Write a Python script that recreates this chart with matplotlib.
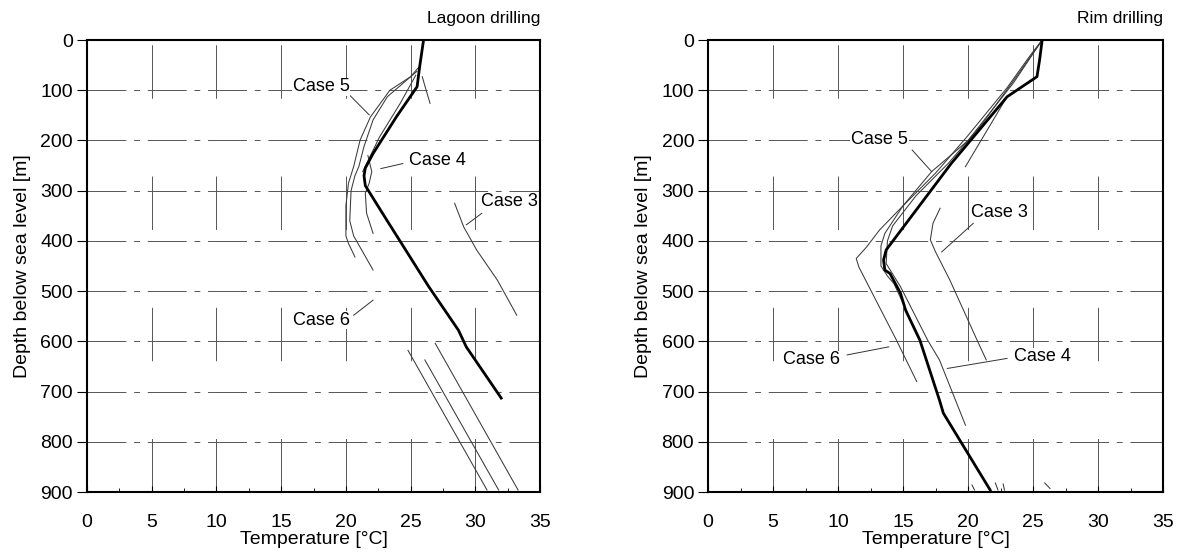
import matplotlib.pyplot as plt
from matplotlib.ticker import MultipleLocator

plt.rcParams['font.family'] = ['Liberation Sans', 'DejaVu Sans']

# ---- Lagoon drilling (left panel): temperature [degC] vs depth [m] ----
lag_meas_t = [26.0, 25.7, 25.5, 23.9, 22.1, 21.5, 21.4, 21.5, 23.0, 26.4, 28.7, 29.3, 32.0]
lag_meas_d = [0, 53, 93, 153, 226, 255, 270, 290, 352, 491, 578, 611, 713]

lag_case5_t = [25.6, 25.0, 23.4, 21.9, 21.1, 20.6, 20.2, 20.0, 20.0, 20.2, 20.7]
lag_case5_d = [55, 73, 100, 153, 199, 252, 285, 330, 390, 405, 432]

lag_case6_t = [25.5, 23.2, 22.1, 21.4, 21.0, 20.7, 20.4, 20.3, 20.6, 22.1]
lag_case6_d = [62, 113, 159, 212, 252, 270, 300, 360, 390, 458]

lag_inner_t = [25.4, 24.2, 22.6, 21.6, 21.3]
lag_inner_d = [70, 126, 193, 246, 262]

lag_case4_t = [21.7, 22.0, 21.8, 21.5, 21.6, 22.1]
lag_case4_d = [230, 262, 285, 305, 345, 385]

lag_case3a_t = [25.9, 26.2, 26.5]
lag_case3a_d = [73, 100, 126]
lag_case3b_t = [28.4, 29.1, 30.1, 31.7, 33.2]
lag_case3b_d = [325, 372, 418, 478, 548]

lag_low_a_t = [24.8, 30.9]
lag_low_a_d = [618, 896]
lag_low_b_t = [26.1, 31.8]
lag_low_b_d = [637, 896]
lag_low_c_t = [26.9, 33.3]
lag_low_c_d = [604, 896]

# ---- Rim drilling (right panel) ----
rim_meas_t = [25.7, 25.5, 25.3, 23.0, 18.7, 13.7, 13.5, 13.6, 14.0, 14.8, 15.2, 16.3, 17.8, 18.1, 18.9, 21.7]
rim_meas_d = [0, 40, 73, 113, 246, 418, 438, 458, 465, 504, 538, 598, 717, 743, 777, 896]

rim_case6_t = [25.7, 24.8, 23.0, 20.0, 17.5, 15.0, 13.2, 12.2, 11.4, 11.6, 14.5, 16.05]
rim_case6_d = [0, 30, 95, 190, 265, 330, 378, 412, 435, 452, 598, 680]

rim_case5_t = [25.7, 23.5, 20.0, 17.2, 15.0, 13.6, 13.3, 13.3, 13.8, 14.3, 15.3]
rim_case5_d = [0, 85, 200, 262, 330, 385, 410, 450, 470, 485, 541]

rim_case4_t = [25.7, 23.8, 21.0, 18.5, 16.0, 14.2, 13.8, 13.7, 14.8, 16.9, 17.8, 19.8]
rim_case4_d = [0, 70, 170, 245, 310, 370, 400, 445, 491, 598, 637, 767]

rim_case3a_t = [23.0, 19.8]
rim_case3a_d = [113, 252]
rim_case3b_t = [17.85, 17.3, 17.1, 17.5, 18.6, 20.7, 21.4]
rim_case3b_d = [335, 365, 398, 422, 478, 598, 637]

rim_tails_t = [[20.3, 20.5], [22.1, 22.3], [22.7, 22.8], [25.9, 26.3]]
rim_tails_d = [[886, 896], [882, 896], [884, 896], [882, 893]]

# labels: (text, text T, text D, leader from T, D, leader to T, D)
lag_labels = [("Case 5", 15.9, 93, 20.3, 110, 21.8, 149),
              ("Case 4", 24.9, 240, 24.4, 246, 22.7, 256),
              ("Case 3", 30.4, 322, 30.5, 345, 29.3, 368),
              ("Case 6", 15.9, 558, 20.6, 548, 22.1, 518)]
rim_labels = [("Case 5", 11.0, 199, 15.7, 219, 17.2, 262),
              ("Case 3", 20.2, 344, 20.4, 365, 17.97, 422),
              ("Case 6", 5.8, 637, 10.7, 627, 13.9, 611),
              ("Case 4", 23.5, 631, 23.0, 634, 18.4, 654)]

fig = plt.figure(figsize=(11.82, 5.56), dpi=100)
ax1 = fig.add_axes([0.0736, 0.1151, 0.3833, 0.8129])
ax2 = fig.add_axes([0.599, 0.1151, 0.3850, 0.8129])

thin = dict(color='#3a3a3a', lw=0.75)
thick = dict(color='black', lw=2.0)


def setup(ax, title):
    ax.set_xlim(0, 35)
    ax.set_ylim(900, 0)
    ax.xaxis.set_major_locator(MultipleLocator(5))
    ax.xaxis.set_minor_locator(MultipleLocator(2.5))
    ax.yaxis.set_major_locator(MultipleLocator(100))
    ax.tick_params(axis='x', direction='in', length=4, labelsize=14, pad=16)
    ax.tick_params(axis='x', which='minor', direction='in', length=3)
    ax.tick_params(axis='y', direction='out', length=7, labelsize=14, pad=3)
    ax.grid(True, axis='y', color='#555555', lw=0.7, linestyle=(0, (40, 8, 6, 8)))
    ax.grid(True, axis='x', color='#555555', lw=0.7, linestyle=(0, (55, 80)))
    ax.set_axisbelow(True)
    for s in ax.spines.values():
        s.set_linewidth(1.5)
    ax.set_xlabel("Temperature [°C]", fontsize=14, labelpad=0)
    ax.set_ylabel("Depth below sea level [m]", fontsize=14)
    ax.yaxis.set_label_coords(-0.124, 0.5)
    ax.text(1.0, 1.03, title, transform=ax.transAxes, ha='right', va='bottom', fontsize=12.5)


setup(ax1, "Lagoon drilling")
setup(ax2, "Rim drilling")

# left panel
ax1.plot(lag_case5_t, lag_case5_d, **thin)
ax1.plot(lag_case6_t, lag_case6_d, **thin)
ax1.plot(lag_inner_t, lag_inner_d, **thin)
ax1.plot(lag_case4_t, lag_case4_d, **thin)
ax1.plot(lag_case3a_t, lag_case3a_d, **thin)
ax1.plot(lag_case3b_t, lag_case3b_d, **thin)
ax1.plot(lag_low_a_t, lag_low_a_d, **thin)
ax1.plot(lag_low_b_t, lag_low_b_d, **thin)
ax1.plot(lag_low_c_t, lag_low_c_d, **thin)
ax1.plot(lag_meas_t, lag_meas_d, **thick)

# right panel
ax2.plot(rim_case6_t, rim_case6_d, **thin)
ax2.plot(rim_case5_t, rim_case5_d, **thin)
ax2.plot(rim_case4_t, rim_case4_d, **thin)
ax2.plot(rim_case3a_t, rim_case3a_d, **thin)
ax2.plot(rim_case3b_t, rim_case3b_d, **thin)
for tt, dd in zip(rim_tails_t, rim_tails_d):
    ax2.plot(tt, dd, **thin)
ax2.plot(rim_meas_t, rim_meas_d, **thick)

for ax, labels in ((ax1, lag_labels), (ax2, rim_labels)):
    for txt, tx, ty, x0, y0, x1, y1 in labels:
        ax.text(tx, ty, txt, fontsize=13, ha='left', va='center',
                bbox=dict(facecolor='white', edgecolor='none', pad=0.5))
        ax.plot([x0, x1], [y0, y1], color='#333333', lw=0.7)

fig.savefig("out.png", dpi=100)
